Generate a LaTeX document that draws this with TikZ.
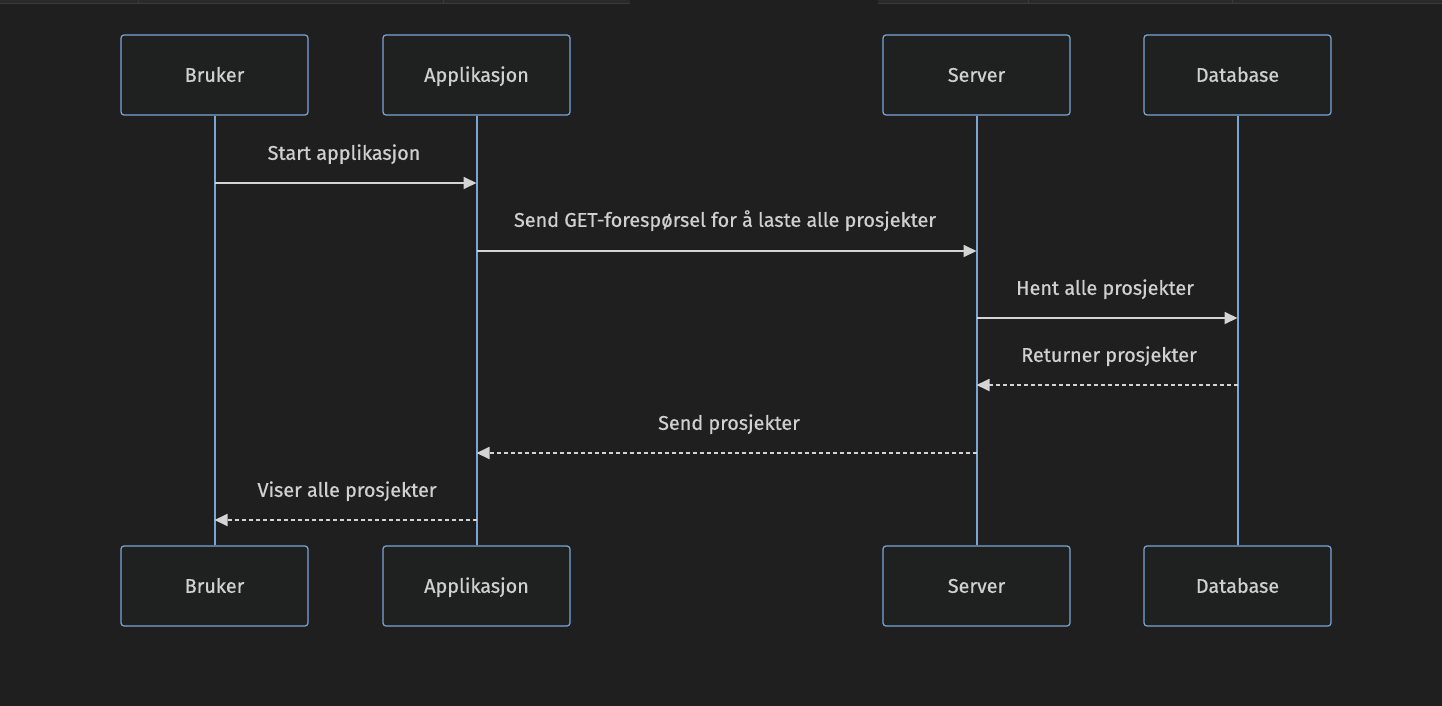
\documentclass[tikz,border=0pt]{standalone}
\usepackage{fontspec}
\setmainfont{Fira Sans}[FakeBold=0.6]
\usetikzlibrary{arrows.meta}
\definecolor{bg}{HTML}{1F1F1F}
\definecolor{boxfill}{HTML}{1F2020}
\definecolor{boxline}{HTML}{7AA6D6}
\definecolor{txt}{HTML}{D0D0D0}
\definecolor{arr}{HTML}{D4D4D4}
\definecolor{tabbar}{HTML}{2A2A2A}
\definecolor{tabdiv}{HTML}{3A3A3A}
\tikzset{
  actor/.style={draw=boxline, fill=boxfill, line width=1.2pt, rounded corners=3pt,
    minimum width=187pt, minimum height=80pt, inner sep=0pt, text=txt,
    font=\fontsize{19.8}{22}\selectfont, text height=13.6pt, text depth=0pt},
  lifeline/.style={draw=boxline, line width=2pt},
  msg/.style={draw=arr, line width=1.8pt, -{Triangle[length=13pt,width=12pt]}},
  reply/.style={msg, dash pattern=on 4pt off 3pt},
  lbl/.style={text=txt, font=\fontsize{19.8}{22}\selectfont, inner sep=0pt,
    text height=13.6pt, text depth=0pt}
}
\begin{document}
\begin{tikzpicture}[x=1pt,y=-1pt]
\fill[bg] (0,0) rectangle (1442,706);
\useasboundingbox (0,0) rectangle (1442,706);
% top tab strip
\fill[tabbar] (0,0) rectangle (630,3);
\fill[tabbar] (878,0) rectangle (1442,3);
\fill[tabdiv] (0,3) rectangle (630,4);
\fill[tabdiv] (878,3) rectangle (1442,4);
\foreach \xx in {138,443,1028,1232} \fill[tabdiv] (\xx,0) rectangle (\xx+1,3);
% actors
\node[actor] (bt) at (214.5,75) {Bruker};
\node[actor] (at) at (476.5,75) {Applikasjon};
\node[actor] (st) at (976.5,75) {Server};
\node[actor] (dt) at (1237.5,75) {Database};
\node[actor] (bb) at (214.5,586) {Bruker};
\node[actor] (ab) at (476.5,586) {Applikasjon};
\node[actor] (sb) at (976.5,586) {Server};
\node[actor] (db) at (1237.5,586) {Database};
% lifelines
\draw[lifeline] (bt.south) -- (bb.north);
\draw[lifeline] (at.south) -- (ab.north);
\draw[lifeline] (st.south) -- (sb.north);
\draw[lifeline] (dt.south) -- (db.north);
% message coordinates
\coordinate (b1) at (214.5,183); \coordinate (a1) at (476.5,183);
\coordinate (a2) at (476.5,251); \coordinate (s2) at (976.5,251);
\coordinate (s3) at (976.5,318); \coordinate (d3) at (1237.5,318);
\coordinate (d4) at (1237.5,385); \coordinate (s4) at (976.5,385);
\coordinate (s5) at (976.5,453); \coordinate (a5) at (476.5,453);
\coordinate (a6) at (476.5,520); \coordinate (b6) at (214.5,520);
\draw[msg] (b1) -- (a1);
\draw[msg] (a2) -- (s2);
\draw[msg] (s3) -- (d3);
\draw[reply] (d4) -- (s4);
\draw[reply] (s5) -- (a5);
\draw[reply] (a6) -- (b6);
% labels
\node[lbl] (l1) at (344,153) {Start applikasjon};
\node[lbl] (l2) at (725,220) {Send GET-forespørsel for å laste alle prosjekter};
\node[lbl] (l3) at (1105,288) {Hent alle prosjekter};
\node[lbl] (l4) at (1109,355) {Returner prosjekter};
\node[lbl] (l5) at (729,423) {Send prosjekter};
\node[lbl] (l6) at (347,490) {Viser alle prosjekter};
\end{tikzpicture}
\end{document}
